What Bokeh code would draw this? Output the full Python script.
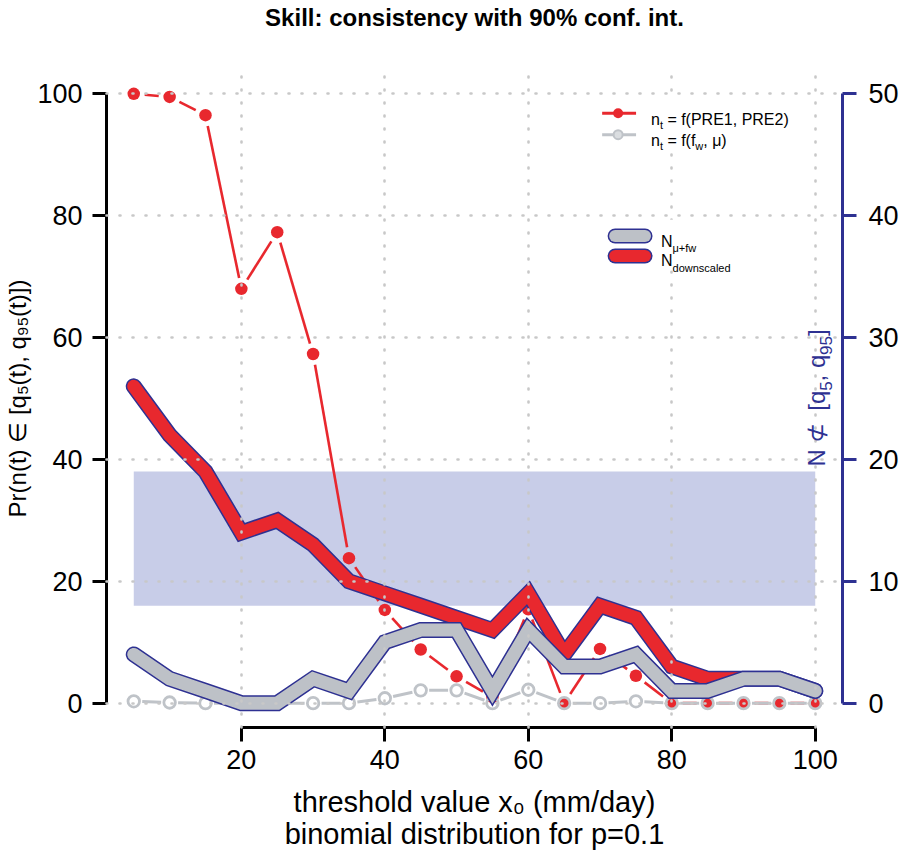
import math
from bokeh.plotting import figure
from bokeh.models import Range1d, LinearAxis, FixedTicker, Label, BoxAnnotation
from bokeh.embed import file_html
from bokeh.resources import INLINE

# ---------------- data ----------------
thresholds = [5, 10, 15, 20, 25, 30, 35, 40, 45, 50, 55, 60, 65, 70, 75, 80, 85, 90, 95, 100]
pr_pre = [100, 99.5, 96.5, 68, 77.3, 57.3, 23.8, 15.3, 8.8, 4.4, 1.0, 15.4, 0, 8.9, 4.5, 0, 0, 0, 0, 0]
pr_fw = [0.3, 0.1, 0, 0, 0, 0, 0, 0.8, 2.1, 2.1, 0, 2.2, 0, 0, 0.3, 0, 0, 0, 0, 0]
n_down = [26, 22, 19, 14, 15, 13, 10, 9, 8, 7, 6, 9, 4, 8, 7, 3, 2, 2, 2, 1]
n_fw = [4, 2, 1, 0, 0, 2, 1, 5, 6, 6, 1, 6, 3, 3, 4, 1, 1, 2, 2, 1]
q5_band = 8
q95_band = 19
x_ticks = [20, 40, 60, 80, 100]
left_ticks = [0, 20, 40, 60, 80, 100]
right_ticks = [0, 10, 20, 30, 40, 50]

title_text = "Skill: consistency with 90% conf. int."
xlabel_1 = "threshold value x\u2080 (mm/day)"
xlabel_2 = "binomial distribution for p=0.1"
ylabel = "Pr(n(t) \u2208 [q\u2085(t), q\u2089\u2085(t)])"

# ---------------- style ----------------
RED = "#E8282E"
GREY_THICK = "#BDC1C7"
GREY_THIN = "#BFC3C8"
BLUE = "#2E3192"
BAND = "#C8CDE8"
GRID = "#C8C8C8"
FONT = "Liberation Sans"

W_FIG, H_FIG = 901, 861
BL, BT = 106, 66
FW, FH = 738, 661
BR = W_FIG - BL - FW
BB = H_FIG - BT - FH
X0, X1 = 1.2, 103.8
Y0, Y1 = -4, 104
R0, R1 = -2, 52
SX = FW / (X1 - X0)
SYL = FH / (Y1 - Y0)
PAGE_L = BL
PAGE_B = BT + FH


def PX(px):
    return X0 + (px - PAGE_L) / SX


def PY(py):
    return Y0 + (PAGE_B - py) / SYL


p = figure(width=W_FIG, height=H_FIG, x_range=Range1d(X0, X1), y_range=Range1d(Y0, Y1),
           output_backend="svg", toolbar_location=None,
           min_border_left=BL, min_border_right=BR, min_border_top=BT, min_border_bottom=BB)
p.extra_y_ranges = {"right": Range1d(R0, R1)}
p.outline_line_color = None
p.background_fill_color = "white"

xa = p.below[0]
ya = p.left[0]

# axes
for ax, ticks, bnds in ((xa, x_ticks, (x_ticks[0], x_ticks[-1])),
                        (ya, left_ticks, (left_ticks[0], left_ticks[-1]))):
    ax.ticker = FixedTicker(ticks=ticks)
    ax.bounds = bnds
    ax.axis_line_width = 3
    ax.axis_line_color = "black"
    ax.major_tick_line_width = 3
    ax.major_tick_out = 14
    ax.major_tick_in = 0
    ax.minor_tick_line_color = None
    ax.major_label_text_font = FONT
    ax.major_label_text_font_size = "27px"
    ax.major_label_text_color = "black"
    ax.axis_label_text_font = FONT
    ax.axis_label_text_font_style = "normal"
    ax.axis_label_text_color = "black"

xa.major_label_standoff = 8
xa.axis_label = xlabel_1 + "\n" + xlabel_2
xa.axis_label_text_font_size = "29px"
xa.axis_label_text_line_height = 1.0
xa.axis_label_standoff = 14

ya.major_label_standoff = 10
ya.axis_label = ylabel
ya.axis_label_text_font_size = "24px"
ya.axis_label_standoff = 3

rax = LinearAxis(y_range_name="right", ticker=FixedTicker(ticks=right_ticks),
                 bounds=(right_ticks[0], right_ticks[-1]))
rax.axis_line_width = 3
rax.axis_line_color = BLUE
rax.major_tick_line_width = 3
rax.major_tick_line_color = BLUE
rax.major_tick_out = 14
rax.major_tick_in = 0
rax.minor_tick_line_color = None
rax.major_label_text_font = FONT
rax.major_label_text_font_size = "27px"
rax.major_label_text_color = "black"
rax.major_label_standoff = 12
p.add_layout(rax, "right")

# title as the label of a bare axis above the frame
tax = LinearAxis(ticker=FixedTicker(ticks=[]), axis_line_color=None, major_tick_line_color=None,
                 minor_tick_line_color=None, major_tick_out=0, major_tick_in=0,
                 minor_tick_out=0, minor_tick_in=0, major_label_standoff=0,
                 axis_label=title_text, axis_label_standoff=39,
                 axis_label_text_font=FONT, axis_label_text_font_size="24px",
                 axis_label_text_font_style="bold", axis_label_text_color="black")
p.add_layout(tax, "above")

# grid on top of data
p.xgrid.ticker = FixedTicker(ticks=x_ticks)
p.ygrid.ticker = FixedTicker(ticks=left_ticks)
for g in (p.xgrid[0], p.ygrid[0]):
    g.grid_line_color = GRID
    g.grid_line_width = 2.6
    g.grid_line_dash = "1 12"
    g.grid_line_cap = "round"
    g.level = "guide"

# band of binomial 90% interval
p.quad(left=[thresholds[0]], right=[thresholds[-1]], bottom=[q5_band], top=[q95_band],
       y_range_name="right", fill_color=BAND, line_color=None)


def gapped(xs, ys, sy, g):
    a, b, c, d = [], [], [], []
    for i in range(len(xs) - 1):
        dxp = (xs[i + 1] - xs[i]) * SX
        dyp = (ys[i + 1] - ys[i]) * sy
        L = math.hypot(dxp, dyp)
        if L <= 2 * g:
            continue
        f = g / L
        a.append(xs[i] + (xs[i + 1] - xs[i]) * f)
        b.append(ys[i] + (ys[i + 1] - ys[i]) * f)
        c.append(xs[i + 1] - (xs[i + 1] - xs[i]) * f)
        d.append(ys[i + 1] - (ys[i + 1] - ys[i]) * f)
    return a, b, c, d


# thin series (type "b")
a, b, c, d = gapped(thresholds, pr_pre, SYL, 11)
p.segment(a, b, c, d, line_color=RED, line_width=2.6)
p.scatter(thresholds, pr_pre, size=12.5, fill_color=RED, line_color=None)

a, b, c, d = gapped(thresholds, pr_fw, SYL, 8.5)
p.segment(a, b, c, d, line_color=GREY_THIN, line_width=3)
p.scatter(thresholds, pr_fw, size=11.5, fill_color=None, line_color=GREY_THIN, line_width=2.8)

# thick series
for ys, col in ((n_down, RED), (n_fw, GREY_THICK)):
    p.line(thresholds, ys, y_range_name="right", line_width=16, line_color=BLUE,
           line_cap="round", line_join="miter")
    p.line(thresholds, ys, y_range_name="right", line_width=13, line_color=col,
           line_cap="round", line_join="miter")

# ---------------- text helpers ----------------
WID = {' ': 278, '(': 333, ')': 333, ',': 278, '.': 278, '/': 278, '=': 584, '[': 278, ']': 278,
       '+': 584, '%': 889, ':': 278, 'E': 667, 'N': 722, 'P': 667, 'R': 722, 'S': 667,
       'a': 556, 'b': 556, 'c': 500, 'd': 556, 'e': 556, 'f': 278, 'h': 556, 'i': 222, 'k': 500,
       'l': 222, 'm': 833, 'n': 556, 'o': 556, 'p': 556, 'q': 556, 'r': 333, 's': 500, 't': 278,
       'u': 556, 'v': 500, 'w': 722, 'x': 500, 'y': 500, 'μ': 576, '∈': 713, '⊄': 780}


def tw(s, size):
    return sum(WID.get(ch, 556) for ch in s) / 1000.0 * size


def rich(runs, px, py, angle=0.0, align="center", color="black", level="annotation"):
    total = sum(tw(t, s) for t, s, dd in runs)
    pos = -total / 2 if align == "center" else 0.0
    for t, s, dd in runs:
        lead = len(t) - len(t.lstrip(' '))
        txt = t.strip(' ').replace(' ', '\u00a0')
        off = pos + tw(' ' * lead, s)
        if angle == 0:
            X, Y = px + off, py + dd
        else:
            X, Y = px + dd, py - off
        if txt:
            p.add_layout(Label(x=PX(X), y=PY(Y), text=txt, angle=angle, text_align="left",
                               text_baseline="alphabetic", text_font=FONT,
                               text_font_size=f"{s}px", text_color=color, level=level))
        pos += tw(t, s)


# right y label (inside the frame)
rich([("N", 24, 0), (" ⊄ ", 24, 0), (" [q", 24, 0), ("5", 17, 9), (", q", 24, 0), ("95", 17, 9),
      ("]", 24, 0)], 818, 396, angle=math.pi / 2, color=BLUE)

# ---------------- legends ----------------
p.add_layout(BoxAnnotation(left=PX(597), right=PX(802), top=PY(96), bottom=PY(142),
                           fill_color="white", fill_alpha=1.0, line_color=None, level="annotation"))
p.add_layout(BoxAnnotation(left=PX(600), right=PX(770), top=PY(217), bottom=PY(268),
                           fill_color="white", fill_alpha=1.0, line_color=None, level="annotation"))

p.line([PX(603), PX(637)], [PY(110), PY(110)], line_color=RED, line_width=3, level="overlay")
p.scatter([PX(619)], [PY(110)], size=10, fill_color=RED, line_color=None, level="overlay")
p.line([PX(603), PX(637)], [PY(131.5), PY(131.5)], line_color=GREY_THIN, line_width=3, level="overlay")
p.scatter([PX(619)], [PY(131.5)], size=9, fill_color="#DADDE0", line_color=GREY_THIN, line_width=2,
          level="overlay")
rich([("n", 16, 0), ("t", 11, 6), (" = f(PRE1, PRE2)", 16, 0)], 652, 116, align="left", level="overlay")
rich([("n", 16, 0), ("t", 11, 6), (" = f(f", 16, 0), ("w", 11, 6), (", μ)", 16, 0)], 652, 137.3,
     align="left", level="overlay")

for yy, col in ((233.3, GREY_THICK), (253.3, RED)):
    p.line([PX(616), PX(646)], [PY(yy), PY(yy)], line_width=15, line_color=BLUE, line_cap="round",
           level="overlay")
    p.line([PX(616), PX(646)], [PY(yy), PY(yy)], line_width=12, line_color=col, line_cap="round",
           level="overlay")
rich([("N", 16, 0), ("μ+fw", 11, 7)], 662, 238.3, align="left", level="overlay")
rich([("N", 16, 0), ("downscaled", 11, 7)], 662, 258.3, align="left", level="overlay")

open("out.html", "w").write(file_html(p, INLINE))
